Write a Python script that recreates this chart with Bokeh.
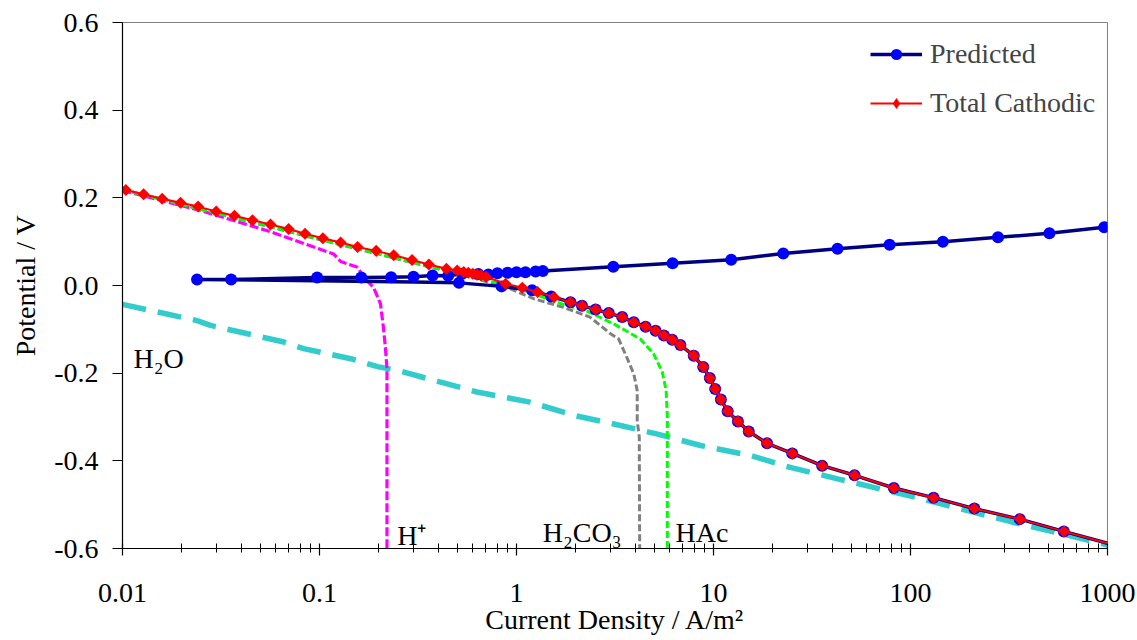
import math
from bokeh.plotting import figure
from bokeh.models import (Range1d, FixedTicker, CustomJSTickFormatter, PrintfTickFormatter,
                          Legend, LegendItem)
from bokeh.core.properties import value
from bokeh.embed import file_html
from bokeh.resources import INLINE

FONT = "Liberation Serif"

# ---------------- data ----------------
x_major = [0.01, 0.1, 1, 10, 100, 1000]
x_minor = [m * d for d in [0.01, 0.1, 1, 10, 100] for m in range(2, 10)]
y_ticks = [-0.6, -0.4, -0.2, 0.0, 0.2, 0.4, 0.6]

# H2O reduction
h2o_x = [0.01, 0.0239, 0.028, 0.066, 0.083, 0.144, 0.197, 0.25, 0.63, 1.17, 1.98, 3.2, 5.2,
         8.6, 15.5, 24.5, 42.6, 70, 115, 193, 330, 580, 1000]
h2o_y = [-0.043, -0.080, -0.091, -0.129, -0.144, -0.167, -0.185, -0.194, -0.243, -0.266, -0.297,
         -0.317, -0.339, -0.365, -0.388, -0.415, -0.441, -0.464, -0.487, -0.513, -0.540, -0.566, -0.592]

# H+ reduction
hp_x = [0.01, 0.0249, 0.0544, 0.118, 0.128, 0.155, 0.175, 0.188, 0.204, 0.211, 0.216, 0.22, 0.22]
hp_y = [0.217, 0.171, 0.125, 0.072, 0.055, 0.042, 0.010, -0.004, -0.042, -0.095, -0.141, -0.19, -0.6]

# H2CO3 reduction
h2co3_x = [0.01, 0.1, 0.33, 0.6, 0.9, 1.22, 1.73, 2.36, 3.0, 3.3, 3.63, 3.94, 4.1, 4.1, 4.2, 4.22]
h2co3_y = [0.219, 0.105, 0.047, 0.018, -0.005, -0.030, -0.050, -0.072, -0.110, -0.122, -0.164,
           -0.202, -0.240, -0.308, -0.346, -0.6]

# HAc reduction
hac_x = [0.01, 0.1, 0.33, 0.6, 1.0, 1.8, 2.27, 3.1, 4.25, 4.97, 5.5, 5.75, 5.83, 5.83]
hac_y = [0.219, 0.106, 0.048, 0.020, -0.005, -0.046, -0.058, -0.087, -0.122, -0.156, -0.198,
         -0.240, -0.300, -0.6]

# Predicted: cathodic branch (marked), approach to Ecorr (unmarked), anodic branch (marked)
pred_start = (1000, -0.588)
pred_cath_x = [600, 359, 211, 131, 82.3, 52.0, 35.6, 25.1, 18.7, 15.1, 13.3, 11.8, 10.9, 10.2,
               9.58, 8.87, 7.94, 6.79, 6.17, 5.60, 5.08, 4.52, 3.94, 3.44, 2.94, 2.52, 2.15, 1.88,
               1.50, 1.20, 0.84, 0.51]
pred_cath_y = [-0.561, -0.533, -0.509, -0.484, -0.462, -0.433, -0.411, -0.383, -0.360, -0.333,
               -0.310, -0.287, -0.260, -0.236, -0.211, -0.186, -0.160, -0.136, -0.124, -0.114,
               -0.103, -0.094, -0.084, -0.072, -0.063, -0.055, -0.046, -0.038, -0.025, -0.011,
               -0.002, 0.006]
pred_near_x = [0.30, 0.12, 0.06]
pred_near_y = [0.008, 0.010, 0.012]
pred_anod_x = [0.0239, 0.0356, 0.0973, 0.163, 0.231, 0.300, 0.375, 0.45, 0.53, 0.64, 0.72, 0.80,
               0.90, 1.00, 1.11, 1.25, 1.36, 3.1, 6.2, 12.3, 22.6, 42.6, 78.3, 146, 278, 507, 962]
pred_anod_y = [0.0137, 0.0137, 0.018, 0.018, 0.019, 0.020, 0.023, 0.022, 0.027, 0.026, 0.025,
               0.028, 0.029, 0.030, 0.030, 0.032, 0.033, 0.043, 0.051, 0.059, 0.073, 0.084, 0.093,
               0.100, 0.110, 0.119, 0.133]
pred_end = (1000, 0.134)

# Total cathodic
tc_start = (0.01, 0.222)
tc_x = [0.0104, 0.0128, 0.0159, 0.0197, 0.0242, 0.0299, 0.0370, 0.0457, 0.0564, 0.0697, 0.0845,
        0.104, 0.128, 0.156, 0.194, 0.238, 0.295, 0.359, 0.441, 0.50, 0.54, 0.57, 0.60, 0.63,
        0.66, 0.70, 0.88, 1.07, 1.28, 1.55, 1.88, 2.15, 2.52, 2.94, 3.44, 3.94, 4.52, 5.08, 5.60,
        6.17, 6.79, 7.94, 8.87, 9.58, 10.2, 10.9, 11.8, 13.3, 15.1, 18.7, 25.1, 35.6, 52.0, 82.3,
        131, 211, 359, 600]
tc_y = [0.218, 0.208, 0.198, 0.189, 0.180, 0.169, 0.159, 0.149, 0.139, 0.129, 0.118, 0.108, 0.098,
        0.088, 0.079, 0.069, 0.058, 0.048, 0.038, 0.034, 0.031, 0.029, 0.027, 0.025, 0.023, 0.020,
        0.004, -0.005, -0.015, -0.027, -0.038, -0.046, -0.055, -0.063, -0.072, -0.084, -0.094,
        -0.103, -0.114, -0.124, -0.136, -0.160, -0.186, -0.211, -0.236, -0.260, -0.287, -0.310,
        -0.333, -0.360, -0.383, -0.411, -0.433, -0.462, -0.484, -0.509, -0.533, -0.561]
tc_end = (1000, -0.588)

# species labels
spec_text = ["H\u2082O", "H\u207a", "H\u2082CO\u2083", "HAc"]
spec_x = [0.01137, 0.248, 1.36, 6.41]
spec_y = [-0.167, -0.570, -0.563, -0.563]

# ---------------- figure ----------------
p = figure(width=1136, height=639, x_axis_type="log",
           x_range=Range1d(0.01, 1000), y_range=Range1d(-0.6, 0.6),
           output_backend="svg", toolbar_location=None,
           min_border_left=122, min_border_right=29, min_border_top=22, min_border_bottom=91)
p.background_fill_color = "white"
p.border_fill_color = "white"
p.outline_line_color = "#808080"
p.outline_line_width = 1
p.xgrid.visible = False
p.ygrid.visible = False

# component curves
p.line(h2o_x, h2o_y, line_color="#33CCCC", line_width=5.5, line_dash="24 12")
p.line(hp_x, hp_y, line_color="#FF00FF", line_width=3.2, line_dash="9 3")
p.line(h2co3_x, h2co3_y, line_color="#808080", line_width=3, line_dash="7 3")
p.line(hac_x, hac_y, line_color="#00FF00", line_width=3, line_dash="7 3")

# predicted
pl_x = [pred_start[0]] + pred_cath_x + pred_near_x + pred_anod_x + [pred_end[0]]
pl_y = [pred_start[1]] + pred_cath_y + pred_near_y + pred_anod_y + [pred_end[1]]
pred_line = p.line(pl_x, pl_y, line_color="#000080", line_width=3.5, line_join="round")
pred_pts = p.scatter(pred_cath_x + pred_anod_x, pred_cath_y + pred_anod_y, marker="circle",
                     size=12, fill_color="#0000FF", line_color="#0000FF", line_width=0)

# total cathodic
tl_x = [tc_start[0]] + tc_x + [tc_end[0]]
tl_y = [tc_start[1]] + tc_y + [tc_end[1]]
tc_line = p.line(tl_x, tl_y, line_color="#FF0000", line_width=2, line_join="round")
tc_leg = p.scatter(tc_x, tc_y, marker="diamond", size=6, fill_color="#FF0000",
                   line_color="#FF0000", line_width=0)
tc_pts = p.scatter(tc_x, tc_y, marker="square", angle=math.pi / 4, size=8.5,
                   fill_color="#FF0000", line_color="#FF0000", line_width=0)

p.text(x=spec_x, y=spec_y, text=spec_text, text_font=value(FONT), text_font_size="28px",
       text_baseline="alphabetic", text_align="left", text_color="black")

# axes
xa = p.xaxis[0]
xa.ticker = FixedTicker(ticks=x_major, minor_ticks=x_minor)
xa.formatter = CustomJSTickFormatter(code="return String(Number(tick.toPrecision(6)));")
xa.major_tick_in = 5
xa.major_tick_out = 7
xa.minor_tick_in = 5
xa.minor_tick_out = 4
xa.major_label_standoff = 28
xa.axis_label = "Current Density / A/m\u00b2"
xa.axis_label_standoff = -1

ya = p.yaxis[0]
ya.ticker = FixedTicker(ticks=y_ticks, minor_ticks=[])
ya.formatter = PrintfTickFormatter(format="%.1f")
ya.major_tick_in = 0
ya.major_tick_out = 10
ya.minor_tick_in = 0
ya.minor_tick_out = 0
ya.major_label_standoff = 14
ya.axis_label = "Potential / V"
ya.axis_label_standoff = 10

for ax in (xa, ya):
    ax.axis_line_color = "black"
    ax.axis_line_width = 1.2
    ax.major_tick_line_color = "black"
    ax.minor_tick_line_color = "black"
    ax.major_tick_line_width = 1.2
    ax.minor_tick_line_width = 1
    ax.major_label_text_font = FONT
    ax.major_label_text_font_size = "28px"
    ax.major_label_text_color = "black"
    ax.axis_label_text_font = FONT
    ax.axis_label_text_font_size = "28px"
    ax.axis_label_text_font_style = "normal"
    ax.axis_label_text_color = "black"

legend = Legend(items=[LegendItem(label="Predicted", renderers=[pred_line, pred_pts]),
                       LegendItem(label="Total Cathodic", renderers=[tc_line, tc_leg])],
                location=(743, 424), glyph_width=52, glyph_height=28, label_height=28,
                label_standoff=8, padding=5, margin=0, spacing=17,
                label_text_font=FONT, label_text_font_size="28px",
                background_fill_alpha=0, border_line_alpha=0)
p.add_layout(legend)

open("out.html", "w").write(file_html(p, INLINE))
